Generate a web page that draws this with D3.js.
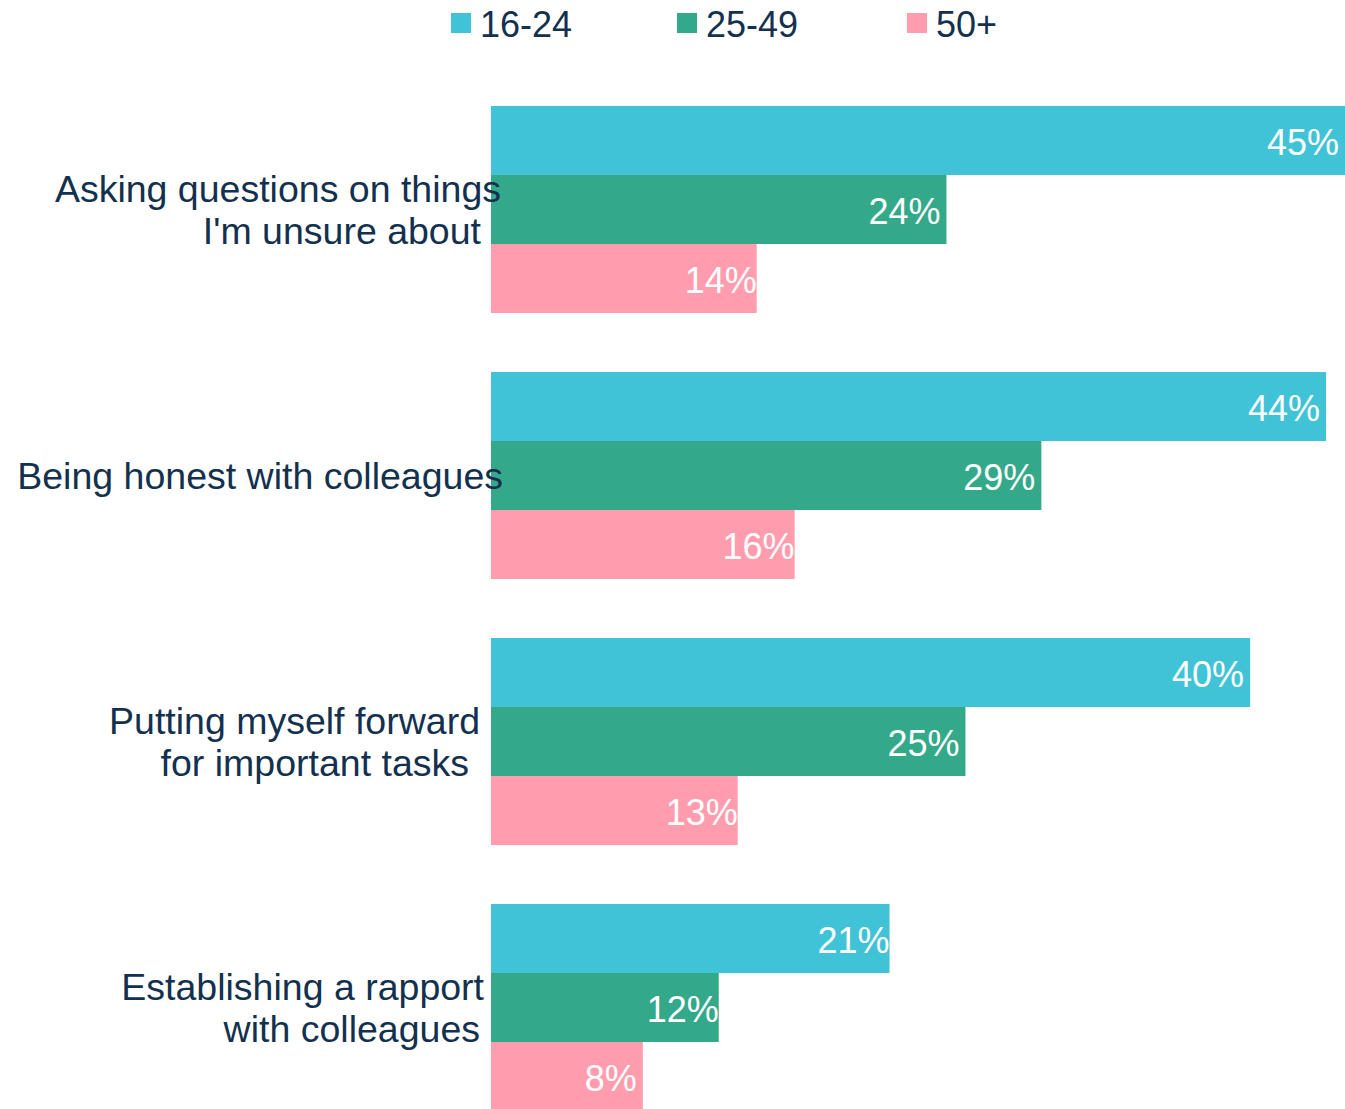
<!DOCTYPE html>
<html>
<head>
<meta charset="utf-8">
<script src="https://cdn.jsdelivr.net/npm/d3@7"></script>
<style>
  html, body { margin: 0; padding: 0; background: #fff; }
  svg { display: block; font-family: "Liberation Sans", Arial, sans-serif; }
</style>
</head>
<body>
<script>
// Share of respondents, by age band, for each workplace behaviour
const categories = [
  ["Asking questions on things", "I'm unsure about"],
  ["Being honest with colleagues"],
  ["Putting myself forward", "for important tasks"],
  ["Establishing a rapport", "with colleagues"]
];
const seriesNames = ["16-24", "25-49", "50+"];
const values1624 = [45, 44, 40, 21];
const values2549 = [24, 29, 25, 12];
const values50 = [14, 16, 13, 8];
const seriesColors = ["#41c3d7", "#34a98a", "#ff9daf"];

// horizontal nudges for each category label line (px, relative to the label column edge)
const labelLineNudge = [[17, -3], [19], [-4, -15], [0, -4]];

const W = 1345, H = 1109;
const svg = d3.select("body").append("svg").attr("width", W).attr("height", H);

const seriesValues = [values1624, values2549, values50];
const rows = categories.map((c, i) => ({
  key: i,
  lines: c,
  vals: seriesValues.map((s, k) => ({ series: k, value: s[i] }))
}));

const x = d3.scaleLinear().domain([0, 45]).range([491, 1345]);
const y0 = d3.scaleBand()
  .domain(rows.map(r => r.key))
  .range([76.5, 76.5 + 266 * 4])
  .paddingInner(59 / 266)
  .paddingOuter(29.5 / 266);
const y1 = d3.scaleBand().domain(d3.range(seriesNames.length)).range([0, y0.bandwidth()]);

const navy = "#13314f";

// bars
const groups = svg.append("g").selectAll("g").data(rows).join("g")
  .attr("transform", d => `translate(0,${y0(d.key)})`);

groups.selectAll("rect").data(d => d.vals).join("rect")
  .attr("x", x(0))
  .attr("y", d => y1(d.series))
  .attr("width", d => x(d.value) - x(0))
  .attr("height", y1.bandwidth())
  .attr("fill", d => seriesColors[d.series]);

// value labels inside bar ends; the label metric treats "1" as a narrow figure
const labelEnd = d => {
  const ones = String(d.value).split("").filter(ch => ch === "1").length;
  return x(d.value) - 6 + ones * 6;
};
groups.selectAll("text.val").data(d => d.vals).join("text")
  .attr("class", "val")
  .attr("x", labelEnd)
  .attr("y", d => y1(d.series) + y1.bandwidth() / 2 + 2)
  .attr("text-anchor", "end")
  .attr("dominant-baseline", "central")
  .attr("fill", "#fff")
  .attr("font-size", 36)
  .text(d => d.value + "%");

// category labels
const lineGap = 42;
svg.append("g").selectAll("text").data(rows).join("text")
  .attr("text-anchor", "end")
  .attr("fill", navy)
  .attr("font-size", 37.5)
  .each(function (d, ri) {
    const cy = y0(d.key) + y0.bandwidth() / 2;
    const n = d.lines.length;
    d3.select(this).selectAll("tspan").data(d.lines).join("tspan")
      .attr("x", (l, i) => 484 + labelLineNudge[ri][i])
      .attr("y", (l, i) => cy + (i - (n - 1) / 2) * lineGap)
      .attr("dominant-baseline", "central")
      .text(l => l);
  });

// legend
const legendX = [451, 677, 907];
const legend = svg.append("g").selectAll("g").data(seriesNames).join("g")
  .attr("transform", (d, i) => `translate(${legendX[i]},13)`);
legend.append("rect")
  .attr("width", 20).attr("height", 20)
  .attr("fill", (d, i) => seriesColors[i]);
legend.append("text")
  .attr("x", 29).attr("y", 11)
  .attr("dominant-baseline", "central")
  .attr("fill", navy)
  .attr("font-size", 36)
  .text(d => d);
</script>
</body>
</html>
